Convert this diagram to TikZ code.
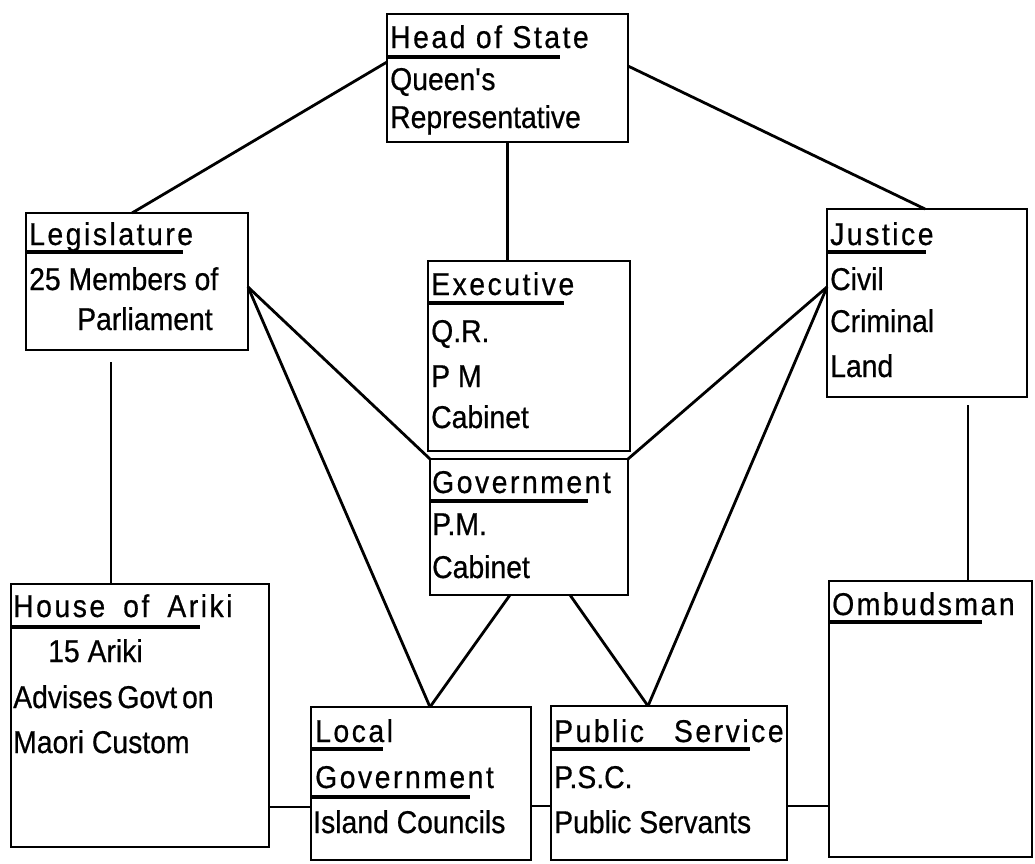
\documentclass[tikz,border=0pt]{standalone}
\usepackage{fontspec}
\setmainfont{Liberation Sans}[FakeStretch=0.9,FakeBold=0.6]
\newfontfamily\titlefam{Liberation Sans}[FakeStretch=0.9,FakeBold=0.6,LetterSpace=8]
\usetikzlibrary{calc}
\tikzset{
  box/.style={draw, line width=2.8pt, anchor=north west, inner sep=0pt, outer sep=0pt},
  txt/.style={anchor=base west, inner sep=0pt, font=\fontsize{31.5}{36}\selectfont},
  ttl/.style={anchor=base west, inner sep=0pt, font=\fontsize{31.5}{36}\selectfont\titlefam},
  link/.style={line width=2.8pt},
  uline/.style={line width=3.2pt},
}
\begin{document}
\begin{tikzpicture}[x=1pt,y=-1pt]
\useasboundingbox (0,0) rectangle (1035,863);
% boxes
\node[box, minimum width=241pt, minimum height=128pt] (head) at (387,14) {};
\node[box, minimum width=222pt, minimum height=137pt] (leg) at (26,213) {};
\node[box, minimum width=202pt, minimum height=190pt] (exec) at (428,261) {};
\node[box, minimum width=198pt, minimum height=136pt] (gov) at (430,459) {};
\node[box, minimum width=200pt, minimum height=188pt] (just) at (827,209) {};
\node[box, minimum width=258pt, minimum height=263pt] (ariki) at (11,584) {};
\node[box, minimum width=220pt, minimum height=153pt] (local) at (311,707) {};
\node[box, minimum width=236pt, minimum height=154pt] (psvc) at (551,706) {};
\node[box, minimum width=203pt, minimum height=276pt] (omb) at (829,581) {};
% texts
\node[ttl] (headT) at (390,48) {Head of State};
\node[txt] (head1) at (390,90) {Queen\textquotesingle s};
\node[txt] (head2) at (390,128) {Representative};
\node[ttl] (legT) at (29,245) {Legislature};
\node[txt] (leg1) at (29,290) {25 Members of};
\node[txt] (leg2) at (77,330) {Parliament};
\node[ttl] (execT) at (431,295) {Executive};
\node[txt] (exec1) at (431,342) {Q.R.};
\node[txt] (exec2) at (431,387) {P M};
\node[txt] (exec3) at (431,428) {Cabinet};
\node[ttl] (govT) at (432,493) {Government};
\node[txt] (gov1) at (432,535) {P.M.};
\node[txt] (gov2) at (432,578) {Cabinet};
\node[ttl] (justT) at (830,245) {Justice};
\node[txt] (just1) at (830,290) {Civil};
\node[txt] (just2) at (830,332) {Criminal};
\node[txt] (just3) at (830,377) {Land};
\node[ttl] (arikiT) at (13,617) {House\hspace{18pt}of\hspace{18pt}Ariki};
\node[txt] (ariki1) at (48,662) {15 Ariki};
\node[txt] (ariki2) at (13,708) {Advises\hspace{-3pt} Govt\hspace{-3pt} on};
\node[txt] (ariki3) at (13,753) {Maori Custom};
\node[ttl] (localT1) at (315,742) {Local};
\node[ttl] (localT2) at (315,788) {Government};
\node[txt] (local1) at (313,833) {Island Councils};
\node[ttl] (psvcT) at (554,742) {Public\hspace{30pt}Service};
\node[txt] (psvc1) at (554,788) {P.S.C.};
\node[txt] (psvc2) at (554,833) {Public Servants};
\node[ttl] (ombT) at (832,615) {Ombudsman};
% underlines
\draw[uline] ([yshift=-43pt]head.north west) -- ++(173,0);
\draw[uline] ([yshift=-39pt]leg.north west) -- ++(157,0);
\draw[uline] ([yshift=-42pt]exec.north west) -- ++(136,0);
\draw[uline] ([yshift=-42pt]gov.north west) -- ++(158,0);
\draw[uline] ([yshift=-43pt]just.north west) -- ++(99,0);
\draw[uline] ([yshift=-43pt]ariki.north west) -- ++(189,0);
\draw[uline] ([yshift=-42pt]local.north west) -- ++(72,0);
\draw[uline] ([yshift=-90pt]local.north west) -- ++(159,0);
\draw[uline] ([yshift=-43pt]psvc.north west) -- ++(199,0);
\draw[uline] ([yshift=-41pt]omb.north west) -- ++(153,0);
% connectors
\draw[link] ([yshift=-48pt]head.north west) -- ([xshift=106pt]leg.north west);
\draw[link] ([yshift=-52pt]head.north east) -- ([xshift=98pt]just.north west);
\draw[link] (head.south) -- (head.south |- exec.north);
\draw[link] ([yshift=-74pt]leg.north east) -- (gov.north west);
\draw[link] ([yshift=-74pt]leg.north east) -- ([xshift=119pt]local.north west);
\draw[link] ([yshift=-78pt]just.north west) -- (gov.north east);
\draw[link] ([yshift=-78pt]just.north west) -- ([xshift=97pt]psvc.north west);
\draw[link] ([xshift=80pt]gov.south west) -- ([xshift=119pt]local.north west);
\draw[link] ([xshift=140pt]gov.south west) -- ([xshift=97pt]psvc.north west);
\draw[link] ([xshift=100pt]ariki.north west) -- ([xshift=85pt,yshift=-12pt]leg.south west);
\draw[link] ([xshift=139pt]omb.north west) -- ([xshift=141pt,yshift=-8pt]just.south west);
\draw[link] ([yshift=-223pt]ariki.north east) -- ([yshift=-100pt]local.north west);
\draw[link] ([yshift=-99pt]local.north east) -- ([yshift=-100pt]psvc.north west);
\draw[link] ([yshift=-100pt]psvc.north east) -- ([yshift=-225pt]omb.north west);
\end{tikzpicture}
\end{document}
